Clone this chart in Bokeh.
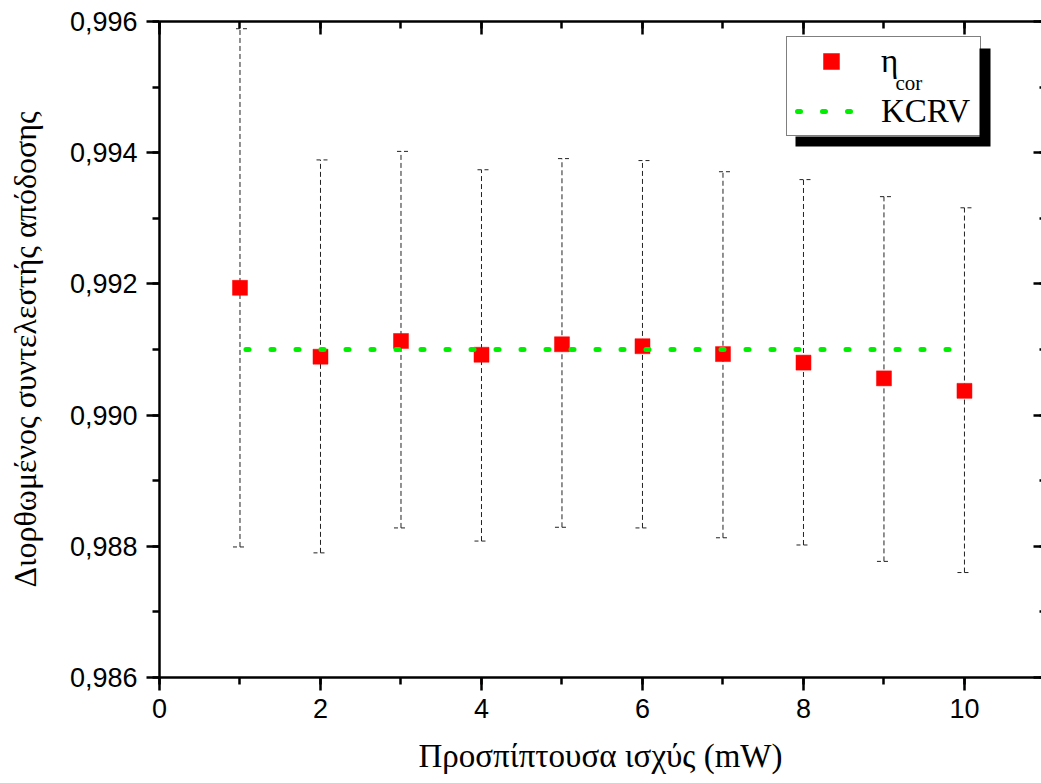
from bokeh.plotting import figure
from bokeh.models import (ColumnDataSource, Whisker, TeeHead, LinearAxis, SingleIntervalTicker,
                          CustomJSTickFormatter, Legend, LegendItem, BoxAnnotation, Label, Range1d,
                          CustomLabelingPolicy)
from bokeh.embed import file_html
from bokeh.resources import INLINE

# ---- data ----
power_mw = [1, 2, 3, 4, 5, 6, 7, 8, 9, 10]
eta_cor = [0.99194, 0.99089, 0.99113, 0.99092, 0.99108, 0.99105, 0.99093, 0.99080, 0.99056, 0.99037]
eta_upper = [0.99589, 0.99389, 0.99402, 0.99374, 0.99391, 0.99388, 0.99371, 0.99359, 0.99333, 0.99316]
eta_lower = [0.98799, 0.98790, 0.98828, 0.98808, 0.98829, 0.98828, 0.98813, 0.98802, 0.98777, 0.98760]
kcrv_x = [1, 10]
kcrv_value = [0.99100, 0.99100]

x_label = "Προσπίπτουσα ισχύς (mW)"
y_label = "Διορθωμένος συντελεστής απόδοσης"

TICK_FONT = "Liberation Sans"
TEXT_FONT = "Liberation Serif"

p = figure(width=1041, height=783,
           x_range=Range1d(0, 10.957), y_range=Range1d(0.986, 0.996),
           output_backend="svg", toolbar_location=None,
           min_border_left=159, min_border_right=0, min_border_top=21, min_border_bottom=106,
           background_fill_color="white", border_fill_color="white")
p.outline_line_color = None
p.xgrid.visible = False
p.ygrid.visible = False
p.xaxis.visible = False
p.yaxis.visible = False

xticker = SingleIntervalTicker(interval=2, num_minor_ticks=2)
yticker = SingleIntervalTicker(interval=0.002, num_minor_ticks=2)
yfmt = CustomJSTickFormatter(code="return tick.toFixed(3).replace('.', ',');")
no_labels = CustomLabelingPolicy(code="for (const i of indices) { indices.unset(i) } return indices;")


def style_axis(ax):
    ax.axis_line_width = 2.5
    ax.axis_line_color = "black"
    ax.major_tick_line_width = 2.5
    ax.minor_tick_line_width = 2.5
    ax.major_tick_line_color = "black"
    ax.minor_tick_line_color = "black"
    ax.major_label_text_font = TICK_FONT
    ax.major_label_text_font_size = "27px"
    ax.major_label_text_color = "black"
    ax.axis_label_text_font = TEXT_FONT
    ax.axis_label_text_font_size = "33px"
    ax.axis_label_text_font_style = "normal"
    ax.axis_label_text_color = "black"


bottom = LinearAxis(ticker=xticker, axis_label=x_label)
style_axis(bottom)
bottom.major_tick_out = 13
bottom.major_tick_in = 0
bottom.minor_tick_out = 7
bottom.minor_tick_in = 0
bottom.major_label_standoff = 8
bottom.axis_label_standoff = 17
p.add_layout(bottom, "below")

left = LinearAxis(ticker=yticker, formatter=yfmt, axis_label=y_label)
style_axis(left)
left.axis_label_text_font_size = "32px"
left.major_tick_out = 13
left.major_tick_in = 0
left.minor_tick_out = 7
left.minor_tick_in = 0
left.major_label_standoff = 9
left.axis_label_standoff = 24
p.add_layout(left, "left")

top = LinearAxis(ticker=xticker, major_label_policy=no_labels)
style_axis(top)
top.major_label_text_font_size = "0px"
top.major_label_standoff = 0
top.major_tick_out = 0
top.major_tick_in = 13
top.minor_tick_out = 0
top.minor_tick_in = 7
p.add_layout(top, "above")

right = LinearAxis(ticker=yticker, major_label_policy=no_labels)
style_axis(right)
right.axis_line_color = None
right.major_label_text_font_size = "0px"
right.major_label_standoff = 0
right.major_tick_out = 0
right.major_tick_in = 8
right.minor_tick_out = 0
right.minor_tick_in = 2
p.add_layout(right, "right")

# ---- error bars ----
src = ColumnDataSource(dict(x=power_mw, y=eta_cor, upper=eta_upper, lower=eta_lower))
whisk = Whisker(base="x", upper="upper", lower="lower", source=src,
                line_color="#222222", line_width=1, line_dash="5 3",
                upper_head=TeeHead(size=14, line_color="#222222", line_width=1, line_dash="4 3"),
                lower_head=TeeHead(size=14, line_color="#222222", line_width=1, line_dash="4 3"),
                level="underlay")
p.add_layout(whisk)

# ---- points ----
sq = p.scatter("x", "y", source=src, marker="square", size=15,
               fill_color="#ff0000", line_color="#ff0000", line_width=0.5)

# ---- KCRV line ----
ln = p.line(kcrv_x, kcrv_value, line_color="#00ee00", line_width=5,
            line_dash="3 22", line_dash_offset=19, line_cap="round")

# ---- legend with shadow ----
shadow = BoxAnnotation(left=636, right=831, bottom=531, top=629,
                       left_units="screen", right_units="screen",
                       top_units="screen", bottom_units="screen",
                       fill_color="black", fill_alpha=1, line_color=None, level="underlay")
p.add_layout(shadow)
legend_bg = BoxAnnotation(left=627, right=820, bottom=541, top=639,
                          left_units="screen", right_units="screen",
                          top_units="screen", bottom_units="screen",
                          fill_color="white", fill_alpha=1, line_color=None, level="underlay")
p.add_layout(legend_bg)

legend = Legend(items=[LegendItem(label="η", renderers=[sq]),
                       LegendItem(label="KCRV", renderers=[ln])],
                location=(627, 541), margin=0, padding=4, spacing=10,
                glyph_width=80, glyph_height=40, label_height=40, label_width=95,
                label_standoff=10,
                label_text_font=TEXT_FONT, label_text_font_size="33px",
                label_text_color="black",
                border_line_color="black", border_line_width=1,
                background_fill_color="white", background_fill_alpha=0)
p.add_layout(legend, "center")

# subscript of the legend's eta label
sub = Label(x=9.143, y=0.995055, text="cor",
            text_font=TEXT_FONT, text_font_size="21px", text_color="black",
            text_baseline="alphabetic", text_align="left")
p.add_layout(sub)

open("out.html", "w").write(file_html(p, INLINE))
